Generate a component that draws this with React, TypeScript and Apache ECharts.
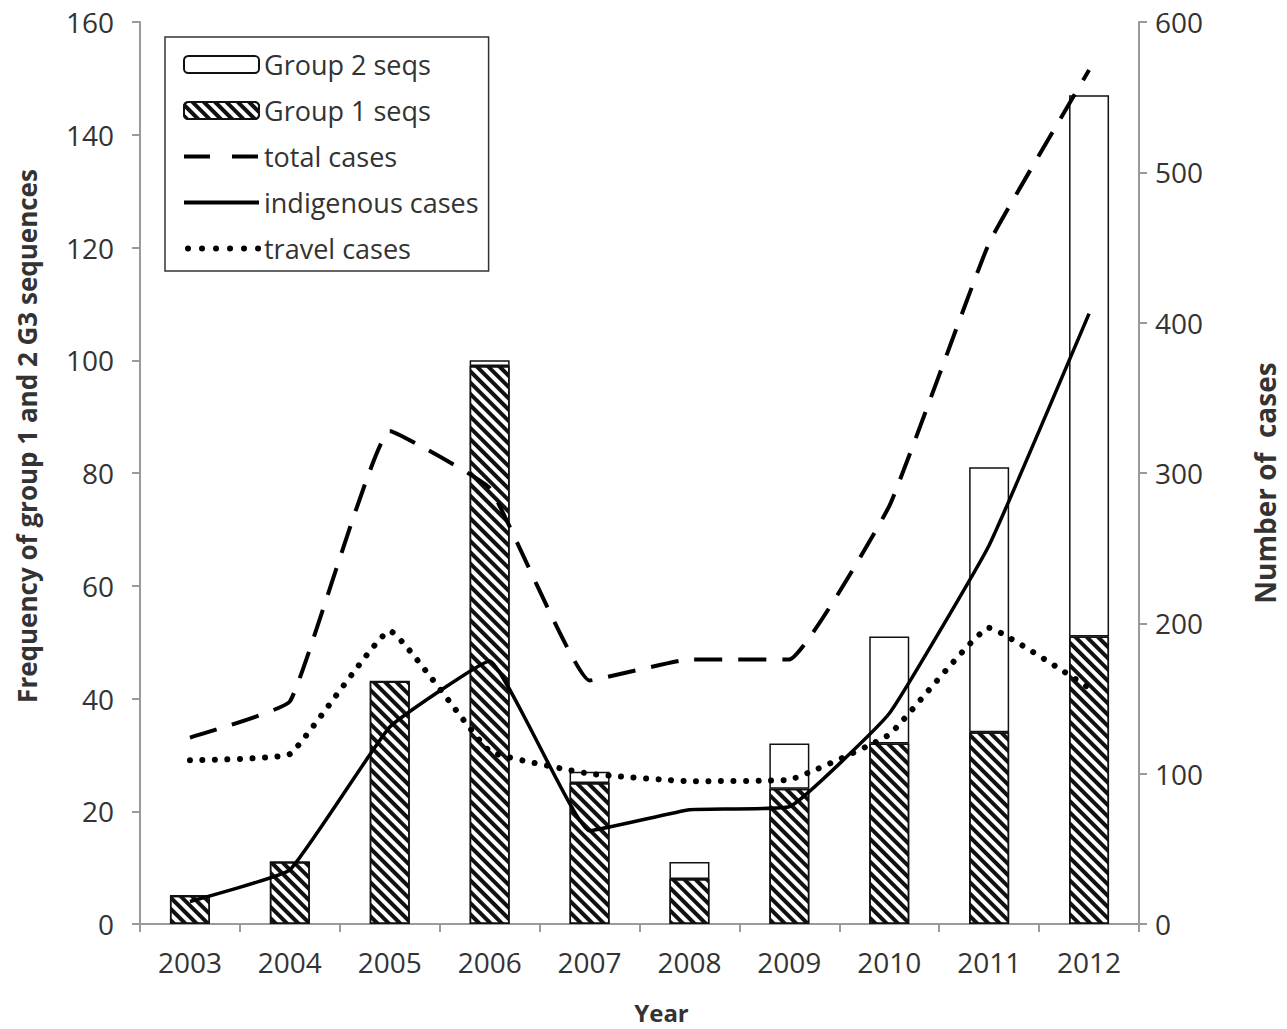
import React, { useEffect, useRef } from 'react';
import * as echarts from 'echarts';

const years = ['2003', '2004', '2005', '2006', '2007', '2008', '2009', '2010', '2011', '2012'];
const group1Seqs = [5, 11, 43, 99, 25, 8, 24, 32, 34, 51];
const group2Seqs = [0, 0, 0, 1, 2, 3, 8, 19, 47, 96];
const totalCases = [124, 148, 328, 290, 162, 176, 176, 278, 453, 568];
const indigenousCases = [15, 36, 131, 175, 62, 76, 78, 140, 252, 406];
const travelCases = [109, 113, 195, 115, 100, 95, 96, 126, 197, 157];

const FONT = "'Open Sans', 'Noto Sans', sans-serif";

const DASH = [28, 16];
const DOTS = [0.01, 12.5];

export default function App() {
  const ref = useRef<HTMLDivElement>(null);
  useEffect(() => {
    const chart = echarts.init(ref.current!, undefined, { renderer: 'svg' });
    const axisLine = { show: true, lineStyle: { color: '#9a9a9a', width: 2 } };
    const axisTick = { show: true, length: 8, lineStyle: { color: '#9a9a9a', width: 2 } };
    const hiddenSymbol = { color: 'rgba(0,0,0,0)', borderWidth: 0, opacity: 0 };
    chart.setOption({
      animation: false,
      backgroundColor: '#fff',
      textStyle: { fontFamily: FONT },
      grid: { left: 140, right: 140, top: 22, bottom: 102 },
      legend: {
        orient: 'vertical',
        left: 165,
        top: 37,
        padding: [14, 10, 9, 16],
        itemGap: 19,
        itemWidth: 75,
        itemHeight: 17,
        borderColor: '#333',
        borderWidth: 1.5,
        textStyle: { fontSize: 27, color: '#333', fontFamily: FONT },
        data: [
          { name: 'Group 2 seqs' },
          { name: 'Group 1 seqs' },
          { name: 'total cases', itemStyle: hiddenSymbol, lineStyle: { width: 4, type: [26, 22], color: '#000' } },
          { name: 'indigenous cases', itemStyle: hiddenSymbol, lineStyle: { width: 4, type: 'solid', color: '#000' } },
          {
            name: 'travel cases',
            itemStyle: hiddenSymbol,
            lineStyle: { width: 6, type: [0.01, 14], cap: 'round', color: '#000', dashOffset: -4 },
          },
        ],
      },
      xAxis: {
        type: 'category',
        data: years,
        name: 'Year',
        nameLocation: 'middle',
        nameGap: 76,
        nameTextStyle: { fontSize: 24, fontWeight: 'bold', color: '#333', padding: [0, 0, 0, 44], fontFamily: FONT },
        axisLine,
        axisTick,
        axisLabel: { fontSize: 28, color: '#333', margin: 24, fontFamily: FONT },
        splitLine: { show: false },
      },
      yAxis: [
        {
          type: 'value',
          min: 0,
          max: 160,
          interval: 20,
          position: 'left',
          name: 'Frequency of group 1 and 2 G3 sequences',
          nameLocation: 'middle',
          nameGap: 100,
          nameRotate: 90,
          nameTextStyle: {
            fontSize: 26,
            fontWeight: 'bold',
            color: '#333',
            fontFamily: FONT,
            padding: [0, 0, 0, 74],
          },
          axisLine,
          axisTick,
          axisLabel: { fontSize: 28, color: '#333', margin: 26, fontFamily: FONT },
          splitLine: { show: false },
        },
        {
          type: 'value',
          min: 0,
          max: 600,
          interval: 100,
          position: 'right',
          name: 'Number of  cases',
          nameLocation: 'middle',
          nameGap: 112,
          nameRotate: 90,
          nameTextStyle: {
            fontSize: 28,
            fontWeight: 'bold',
            color: '#333',
            fontFamily: FONT,
            padding: [0, 20, 0, 0],
          },
          axisLine,
          axisTick,
          axisLabel: { fontSize: 28, color: '#333', margin: 16, fontFamily: FONT },
          splitLine: { show: false },
        },
      ],
      series: [
        {
          name: 'Group 1 seqs',
          type: 'bar',
          stack: 'seqs',
          yAxisIndex: 0,
          barWidth: 40,
          data: group1Seqs,
          itemStyle: {
            color: '#fff',
            borderColor: '#111',
            borderWidth: 1.5,
            decal: {
              symbol: 'rect',
              symbolSize: 1,
              dashArrayX: [1, 0],
              dashArrayY: [3.5, 4],
              rotation: Math.PI / 4,
              color: '#111',
              backgroundColor: '#fff',
            },
          },
        },
        {
          name: 'Group 2 seqs',
          type: 'bar',
          stack: 'seqs',
          yAxisIndex: 0,
          barWidth: 40,
          data: group2Seqs,
          itemStyle: { color: '#fff', borderColor: '#111', borderWidth: 1.5 },
        },
        {
          name: 'total cases',
          type: 'line',
          yAxisIndex: 1,
          data: totalCases,
          smooth: 0.1,
          symbol: 'none',
          lineStyle: { color: '#000', width: 4, type: DASH },
          itemStyle: { color: '#000' },
          z: 5,
        },
        {
          name: 'indigenous cases',
          type: 'line',
          yAxisIndex: 1,
          data: indigenousCases,
          smooth: 0.1,
          symbol: 'none',
          lineStyle: { color: '#000', width: 3.5 },
          itemStyle: { color: '#000' },
          z: 5,
        },
        {
          name: 'travel cases',
          type: 'line',
          yAxisIndex: 1,
          data: travelCases,
          smooth: 0.1,
          symbol: 'none',
          lineStyle: { color: '#000', width: 6, type: DOTS, cap: 'round' },
          itemStyle: { color: '#000' },
          z: 5,
        },
      ],
    });
    return () => chart.dispose();
  }, []);
  return (
    <div
      ref={ref}
      style={{ position: 'absolute', left: 0, top: 0, width: 1287, height: 1029, background: '#fff' }}
    />
  );
}
